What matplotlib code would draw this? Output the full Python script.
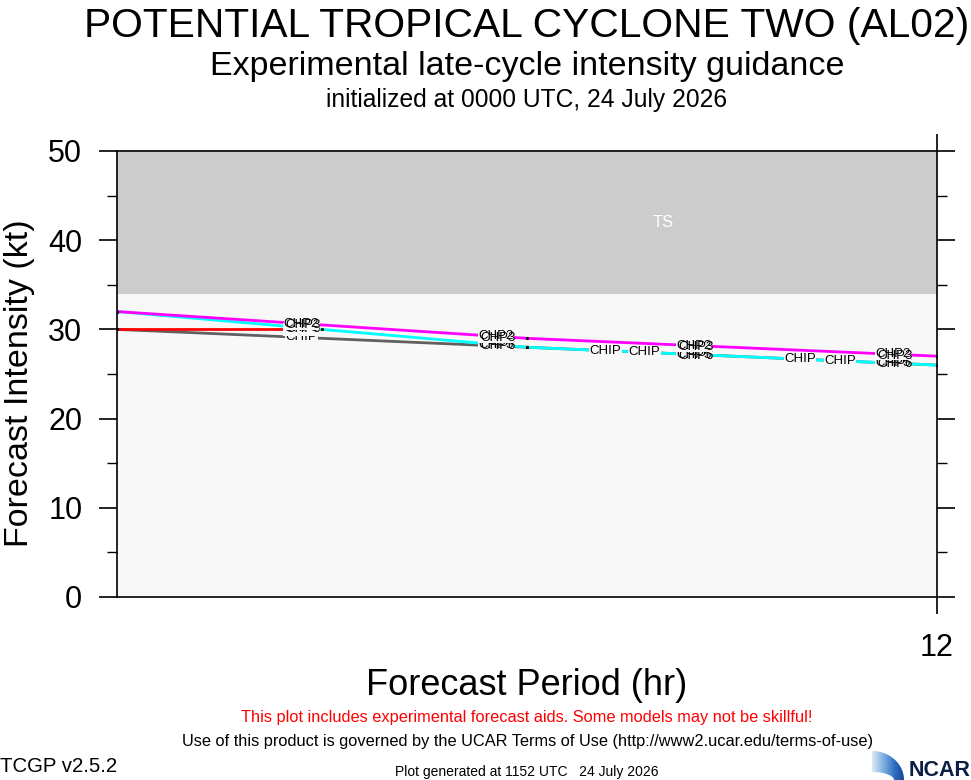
import numpy as np
import matplotlib
matplotlib.use('Agg')
import matplotlib.pyplot as plt
from matplotlib.patches import Polygon
from matplotlib.colors import LinearSegmentedColormap

plt.rcParams['font.family'] = ['Liberation Sans', 'DejaVu Sans']

# forecast data (hours, kt)
hours = [0, 6, 12]
red_hours = [0, 3]
chp_magenta = [32, 29, 27]
chp_cyan = [32, 28, 26]
chc_red = [30, 30]
chip_gray = [30, 28, 26]

# label names drawn along each line
magenta_names = ['CHP2', 'CHP3']
cyan_names = ['CHP5', 'CHP6']
red_names = ['CHC4']
gray_names = ['CHIP']

label_hours = [2.7, 5.55, 8.45, 11.35]
gray_extra_hours = [7.15, 7.72, 10.0, 10.58]
ts_threshold = 34

W, H = 971, 780
fig = plt.figure(figsize=(W / 100, H / 100), dpi=100)
fig.patch.set_facecolor('white')

ax = fig.add_axes([117 / W, 183 / H, 820 / W, 446 / H])
ax.set_xlim(0, 12)
ax.set_ylim(0, 50)
ax.set_facecolor('#f8f8f8')
ax.axhspan(ts_threshold, 50, color='#cccccc', zorder=0, lw=0)
ax.text(8.0, 42, 'TS', color='white', fontsize=12, ha='center', va='center')


def draw_model(x, y, color, names, lab_hours):
    ax.plot(x, y, color=color, lw=2, zorder=2, solid_capstyle='butt')
    ax.scatter(x, y, s=5, color='black', zorder=4, lw=0)
    for h in lab_hours:
        yy = np.interp(h, x, y)
        for i, nm in enumerate(names):
            kw = {}
            if i == 0:
                kw['bbox'] = dict(facecolor='#f8f8f8', edgecolor='none', pad=0.2)
            ax.text(h + i * 0.03, yy - i * 0.15, nm, fontsize=9.5, ha='center',
                    va='center', color='black', zorder=3, **kw)


draw_model(hours, chip_gray, '#606060', gray_names, label_hours + gray_extra_hours)
draw_model(red_hours, chc_red, 'red', red_names, [2.7])
draw_model(hours, chp_cyan, 'cyan', cyan_names, label_hours)
draw_model(hours, chp_magenta, 'magenta', magenta_names, label_hours)

# ticks in the NCL style: outward on every side
ax.set_yticks(range(0, 51, 10))
ax.set_yticks(range(5, 50, 10), minor=True)
ax.tick_params(axis='y', which='major', direction='out', left=True, right=True,
               length=13, width=1.2, labelsize=22, pad=12)
ax.tick_params(axis='y', which='minor', direction='out', left=True, right=True,
               length=7, width=1.0)
ax.set_xticks([12])
ax.tick_params(axis='x', which='major', direction='out', top=True, bottom=True,
               length=12, width=1.2, labelsize=22, pad=14)
for sp in ax.spines.values():
    sp.set_linewidth(1.2)

cx = 527 / W
fig.text(20 / W, 1 - 383 / H, 'Forecast Intensity (kt)', fontsize=24.5, rotation=90,
         ha='center', va='center')
fig.text(cx, 1 - 695 / H, 'Forecast Period (hr)', fontsize=26, ha='center',
         va='baseline')

fig.text(cx, 1 - 37 / H, 'POTENTIAL TROPICAL CYCLONE TWO (AL02)', fontsize=29.3,
         ha='center', va='baseline')
fig.text(cx, 1 - 75 / H, 'Experimental late-cycle intensity guidance', fontsize=24.5,
         ha='center', va='baseline')
fig.text(cx, 1 - 107 / H, 'initialized at 0000 UTC, 24 July 2026', fontsize=17.7,
         ha='center', va='baseline')
fig.text(cx, 1 - 722 / H,
         'This plot includes experimental forecast aids. Some models may not be skillful!',
         fontsize=11.8, color='red', ha='center', va='baseline')
fig.text(cx, 1 - 746 / H,
         'Use of this product is governed by the UCAR Terms of Use (http://www2.ucar.edu/terms-of-use)',
         fontsize=11.8, ha='center', va='baseline')
fig.text(0, 1 - 772 / H, 'TCGP v2.5.2', fontsize=14.7, ha='left', va='baseline')
fig.text(cx, 1 - 776 / H, 'Plot generated at 1152 UTC   24 July 2026', fontsize=10,
         ha='center', va='baseline')

# NCAR logo, drawn in pixel coordinates of the lower right corner
lax = fig.add_axes([870 / W, 0, 101 / W, 40 / H])
lax.axis('off')
t = np.linspace(0, 1, 40)
upper = np.column_stack([872 + 32 * np.sin(t * np.pi / 2),
                         751 + 29 * (1 - np.cos(t * np.pi / 2))])
lower = np.column_stack([872 + 22 * np.sin(t * np.pi / 2),
                         772 + 8 * (1 - np.cos(t * np.pi / 2))])[::-1]
poly = Polygon(np.vstack([upper, lower]), closed=True, facecolor='none',
               edgecolor='none')
lax.add_patch(poly)
cmap = LinearSegmentedColormap.from_list('ncar', ['#dbe8f6', '#7fb0e2', '#2f6fc4', '#123d90'])
grad = np.linspace(0, 1, 64).reshape(1, -1)
im = lax.imshow(grad, cmap=cmap, extent=(872, 906, 780, 750), aspect='auto')
im.set_clip_path(poly)
lax.set_xlim(870, 971)
lax.set_ylim(780, 740)
lax.text(970, 776, 'NCAR', fontsize=15.5, fontweight='bold', color='#0b1f44',
         ha='right', va='baseline')

fig.savefig('out.png', dpi=100)
